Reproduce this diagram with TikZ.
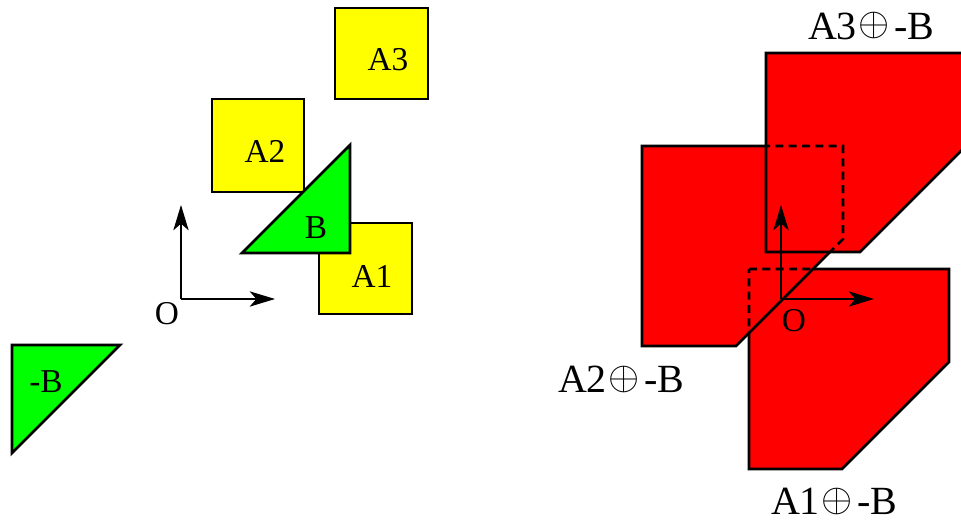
\documentclass[tikz,border=0pt]{standalone}
\usepackage{fontspec}
\usepackage{graphicx}
\setmainfont{Liberation Serif}
\usetikzlibrary{arrows.meta}
\newcommand{\myoplus}{\kern1.5pt\raisebox{2.4pt}{\scalebox{3}{\fontsize{10}{10}\selectfont$\oplus$}}\kern3pt}
\begin{document}
\begin{tikzpicture}[x=0.75pt,y=-0.75pt,
  poly/.style={line width=2.1pt, line join=miter},
  hid/.style={line width=2pt, dash pattern=on 6pt off 4pt},
  ax/.style={line width=0.9pt, -{Stealth[length=19pt,width=11.5pt,inset=5pt]}},
  lab/.style={font=\fontsize{25}{25}\selectfont, inner sep=0pt},
  biglab/.style={font=\fontsize{30}{30}\selectfont, inner sep=0pt}]
\useasboundingbox (0,0) rectangle (961,521);
\definecolor{py}{RGB}{255,255,0}
\definecolor{pg}{RGB}{0,255,0}
\definecolor{pr}{RGB}{255,0,0}
% ---------- left ----------
\draw[poly, fill=py] (335,8) rectangle (428,99);
\draw[poly, fill=py] (212,99) rectangle (304,192);
\draw[poly, fill=py] (319,223) rectangle (412,314);
\draw[poly, fill=pg] (350,145) -- (242,253) -- (350,253) -- cycle;
\draw[poly, fill=pg] (12,345) -- (120,345) -- (12,453) -- cycle;
\coordinate (O1) at (181,299);
\coordinate (O1y) at (181,205);
\coordinate (O1x) at (275,299);
\draw[ax] (O1) -- (O1y);
\draw[ax] (O1) -- (O1x);
\node[lab] (tA3) at (388,60) {A3};
\node[lab] (tA2) at (265,151) {A2};
\node[lab] (tB) at (316,228) {B};
\node[lab] (tA1) at (372,276) {A1};
\node[lab] (tmB) at (46,382) {-B};
\node[lab] (tO1) at (167,314) {O};
% ---------- right ----------
\def\polyA{(749,269) -- (949,269) -- (949,362) -- (842,469) -- (749,469) -- cycle}
\def\polyB{(642,146) -- (843,146) -- (843,239) -- (736,346) -- (642,346) -- cycle}
\def\polyC{(766,53) -- (966,53) -- (966,146) -- (860,252) -- (766,252) -- cycle}
\draw[poly, fill=pr] \polyA;
\draw[poly, fill=pr] \polyB;
\begin{scope}
  \clip \polyB;
  \draw[hid] \polyA;
\end{scope}
\draw[poly, fill=pr] \polyC;
\begin{scope}
  \clip \polyC;
  \draw[hid] \polyB;
\end{scope}
\coordinate (O2) at (781,299);
\coordinate (O2y) at (781,205);
\coordinate (O2x) at (874,299);
\draw[ax] (O2) -- (O2y);
\draw[ax] (O2) -- (O2x);
\node[lab] (tO2) at (794,321) {O};
\node[biglab] (tS3) at (871,26) {A3\myoplus-B};
\node[biglab] (tS2) at (621,379) {A2\myoplus-B};
\node[biglab] (tS1) at (834,501) {A1\myoplus-B};
\end{tikzpicture}
\end{document}
